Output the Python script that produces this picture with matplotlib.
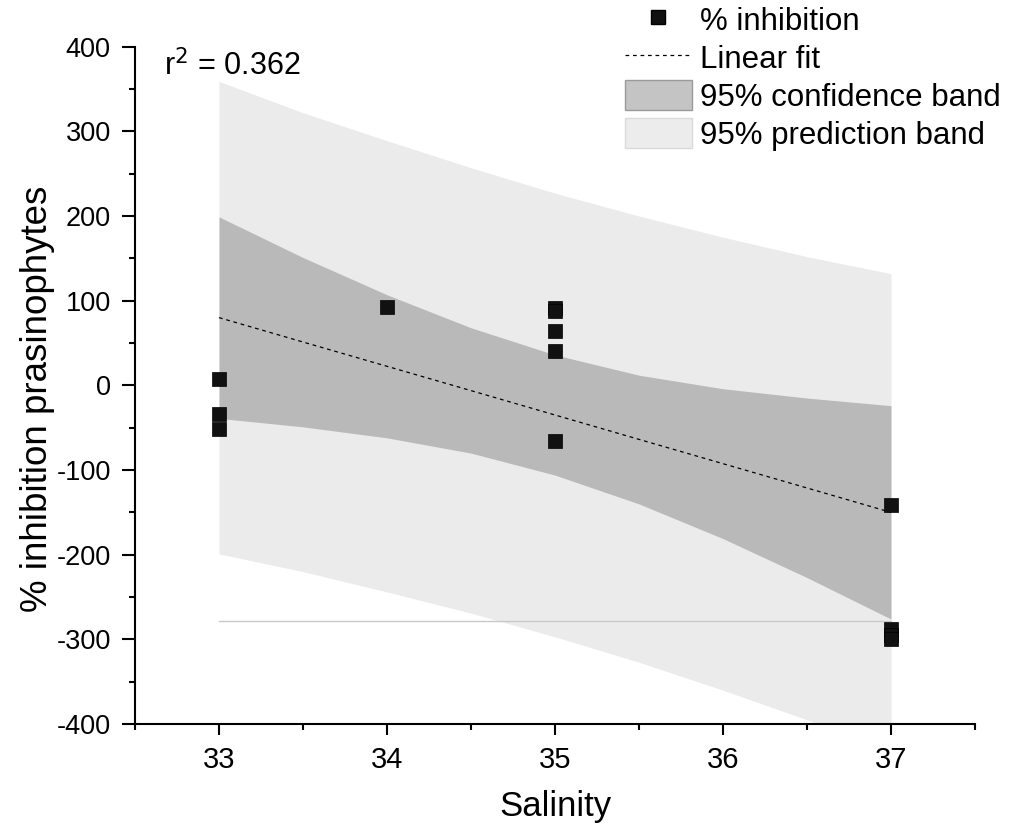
import matplotlib
matplotlib.use('Agg')
import matplotlib.pyplot as plt
from matplotlib.lines import Line2D
from matplotlib.patches import Patch
from matplotlib.ticker import MultipleLocator

plt.rcParams['font.family'] = ['Liberation Sans', 'DejaVu Sans']
plt.rcParams['axes.unicode_minus'] = False

# measured inhibition vs salinity
salinity = [33, 33, 33, 34, 35, 35, 35, 35, 35, 37, 37, 37, 37]
inhibition = [8, -34, -52, 92, 91, 88, 64, 40, -66, -141, -288, -295, -300]

# linear fit and 95% bands sampled along salinity
band_x = [33, 33.5, 34, 34.5, 35, 35.5, 36, 36.5, 37]
fit_y = [80, 51.2, 22.5, -6.2, -35, -63.8, -92.5, -121.2, -150]
conf_hi = [199, 151, 107, 68, 36, 12, -4, -15, -24]
conf_lo = [-39, -49, -62, -80, -106, -140, -181, -227, -276]
pred_hi = [359, 322, 289, 257, 227, 200, 175, 152, 132]
pred_lo = [-199, -220, -244, -269, -297, -327, -360, -395, -432]
base_y = -278
r_squared = 0.362

fig = plt.figure(figsize=(10.12, 8.35), dpi=100)
ax = fig.add_axes([0.1334, 0.1329, 0.83, 0.8112])

pred_col = '#ebebeb'
conf_col = '#b9b9b9'
ax.fill_between(band_x, pred_lo, pred_hi, color=pred_col, lw=0, zorder=1)
ax.fill_between(band_x, conf_lo, conf_hi, color=conf_col, lw=0, zorder=2)
ax.plot([band_x[0], band_x[-1]], [base_y, base_y], color='#c8c8c8', lw=1, zorder=2.5)
ax.plot(band_x, fit_y, color='black', lw=0.9, ls=(0, (3, 3)), zorder=3)
ax.plot(salinity, inhibition, ls='none', marker='s', ms=10, mfc='#111111',
        mec='black', mew=0.5, zorder=4, clip_on=False)

ax.set_xlim(32.5, 37.5)
ax.set_ylim(-400, 400)
ax.xaxis.set_major_locator(MultipleLocator(1))
ax.xaxis.set_minor_locator(MultipleLocator(0.5))
ax.yaxis.set_major_locator(MultipleLocator(100))
ax.yaxis.set_minor_locator(MultipleLocator(50))

for s in ['top', 'right']:
    ax.spines[s].set_visible(False)
for s in ['left', 'bottom']:
    ax.spines[s].set_linewidth(1.5)

ax.tick_params(axis='both', which='major', direction='out', width=1.5)
ax.tick_params(axis='x', which='major', length=8, pad=8, labelsize=21)
ax.tick_params(axis='y', which='major', length=9.5, pad=8, labelsize=19.5)
ax.tick_params(axis='both', which='minor', direction='out', width=1.5, length=4.5)

ax.set_xlabel('Salinity', fontsize=25, labelpad=11)
ax.set_ylabel('% inhibition prasinophytes', fontsize=26.5)
ax.yaxis.set_label_coords(-0.095, 0.48)

ax.text(0.035, 0.995, r'r$^2$ = ' + f'{r_squared:.3f}', transform=ax.transAxes,
        fontsize=22, va='top', ha='left')

handles = [
    Line2D([], [], ls='none', marker='s', ms=10, mfc='#111111', mec='black'),
    Line2D([], [], color='black', lw=0.9, ls=(0, (3, 3))),
    Patch(facecolor='#c4c4c4', edgecolor='#9a9a9a', lw=1),
    Patch(facecolor='#ececec', edgecolor='#dadada', lw=1),
]
labels = ['% inhibition', 'Linear fit', '95% confidence band', '95% prediction band']
fig.legend(handles, labels, loc='upper left', bbox_to_anchor=(0.605, 1.01),
           frameon=False, fontsize=22.5, handlelength=2.15, handleheight=1.1,
           handletextpad=0.25, labelspacing=0.17, borderaxespad=0)

fig.savefig('out.png', dpi=100)
